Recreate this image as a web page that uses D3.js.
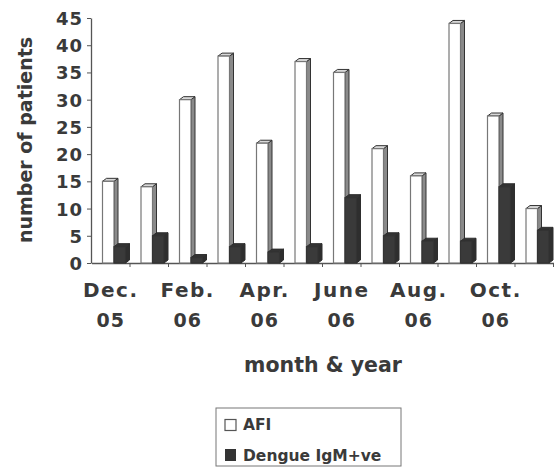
<!DOCTYPE html>
<html><head><meta charset="utf-8">
<script src="https://cdn.jsdelivr.net/npm/d3@7"></script>
<style>
html,body{margin:0;padding:0;background:#fff;}
svg{display:block;}
text{font-family:"DejaVu Sans",sans-serif;font-weight:bold;fill:#3a3a3a;}
</style></head>
<body>
<script>
const months = ["Dec.","Jan.","Feb.","Mar.","Apr.","May","June","July","Aug.","Sep.","Oct.","Nov."];
const years  = ["05","06","06","06","06","06","06","06","06","06","06","06"];
const afi    = [15,14,30,38,22,37,35,21,16,44,27,10];
const dengue = [3,5,1,3,2,3,12,5,4,4,14,6];
const yTicks = [0,5,10,15,20,25,30,35,40,45];
const seriesNames = ["AFI","Dengue IgM+ve"];

const W=555,H=467;
const svg=d3.select("body").append("svg").attr("width",W).attr("height",H);

const x=d3.scaleBand().domain(d3.range(months.length)).range([91.5,553.5]).padding(0);
const y=d3.scaleLinear().domain([0,45]).range([263,18]);
const dx=4, dy=3, bw=11.5;

// y axis
const yAxis=svg.append("g").attr("transform","translate(91,0)")
  .call(d3.axisLeft(y).tickValues(yTicks).tickSize(4).tickSizeOuter(0).tickPadding(4));
yAxis.select(".domain").attr("stroke","#555").attr("stroke-width",1.3);
yAxis.selectAll(".tick line").attr("stroke","#555");
yAxis.selectAll(".tick text").style("font-size","18px").style("letter-spacing","1px")
  .attr("fill","#3a3a3a").attr("dy","0.36em").style("font-family","DejaVu Sans").style("font-weight","bold");

// x axis
const xAxis=svg.append("g").attr("transform","translate(0,263)")
  .call(d3.axisBottom(x).tickSize(0).tickFormat(""));
xAxis.select(".domain").attr("stroke","#555").attr("stroke-width",1.3);
svg.append("g").selectAll("line").data(d3.range(1,months.length+1)).join("line")
  .attr("x1",d=>x(0)+d*x.step()).attr("x2",d=>x(0)+d*x.step())
  .attr("y1",263).attr("y2",267).attr("stroke","#555");

// bars
function bar3d(g,x0,v,front,top,side,strokeFront,strokeEdge){
  const y0=y(0), y1=y(v);
  g.append("path").attr("d",`M${x0+bw},${y0}L${x0+bw+dx},${y0-dy}L${x0+bw+dx},${y1-dy}L${x0+bw},${y1}Z`)
    .attr("fill",side).attr("stroke",strokeEdge).attr("stroke-width",1);
  g.append("path").attr("d",`M${x0},${y1}L${x0+dx},${y1-dy}L${x0+bw+dx},${y1-dy}L${x0+bw},${y1}Z`)
    .attr("fill",top).attr("stroke",strokeEdge).attr("stroke-width",1);
  g.append("rect").attr("x",x0).attr("y",y1).attr("width",bw).attr("height",y0-y1)
    .attr("fill",front).attr("stroke",strokeFront).attr("stroke-width",1.2);
}
const bars=svg.append("g");
afi.forEach((v,i)=>{
  const g=bars.append("g");
  bar3d(g,x(i)+11,v,"#fff","#d8d8d8","#8a8a8a","#777","#333");
});
dengue.forEach((v,i)=>{
  const g=bars.append("g");
  bar3d(g,x(i)+22.5,v,"#3a3a3a","#333","#2e2e2e","#333","#2e2e2e");
});

// x labels
const lab=svg.append("g");
months.forEach((m,i)=>{
  if(i%2) return;
  const cx=x(i)+x.bandwidth()/2;
  lab.append("text").attr("x",cx).attr("y",297).attr("text-anchor","middle")
    .style("font-size","20px").style("letter-spacing","1.5px").text(m);
  lab.append("text").attr("x",cx).attr("y",327).attr("text-anchor","middle")
    .style("font-size","19px").style("letter-spacing","1px").text(years[i]);
});

// axis titles
svg.append("text").attr("x",323).attr("y",372).attr("text-anchor","middle")
  .style("font-size","20.5px").text("month & year");
svg.append("text").attr("transform","translate(32,140) rotate(-90)").attr("text-anchor","middle")
  .style("font-size","19px").text("number of patients");

// legend
const lg=svg.append("g");
lg.append("rect").attr("x",216).attr("y",408).attr("width",185).attr("height",58)
  .attr("fill","#fff").attr("stroke","#777").attr("stroke-width",1);
lg.append("rect").attr("x",225).attr("y",419.5).attr("width",11).attr("height",11)
  .attr("fill","#fff").attr("stroke","#555").attr("stroke-width",1.2);
lg.append("rect").attr("x",225).attr("y",449).attr("width",11).attr("height",12)
  .attr("fill","#333");
lg.append("text").attr("x",243).attr("y",430).style("font-size","15.5px").text(seriesNames[0]);
lg.append("text").attr("x",243).attr("y",461).style("font-size","15.5px").text(seriesNames[1]);
</script>
</body></html>
